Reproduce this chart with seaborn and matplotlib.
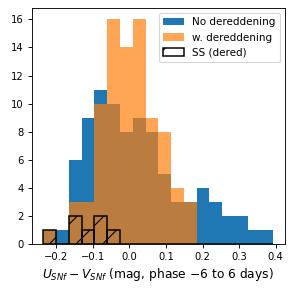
import numpy as np
import pandas as pd
import matplotlib
matplotlib.use("Agg")
import matplotlib.pyplot as plt
import seaborn as sns

# Histogram bin range (18 bins)
bin_lo, bin_hi, n_bins = -0.236, 0.394, 18
# Counts per bin
no_dered = [1, 1, 6, 9, 11, 10, 8, 9, 8, 5, 3, 3, 4, 3, 2, 2, 1, 1]
w_dered = [1, 0, 3, 3, 10, 16, 14, 16, 9, 8, 4, 3, 0, 0, 0, 0, 0, 0]
ss_dered = [1, 0, 2, 1, 2, 1, 0, 0, 0, 0, 0, 0, 0, 0, 0, 0, 0, 0]
labels = ["No dereddening", "w. dereddening", "SS (dered)"]

edges = np.linspace(bin_lo, bin_hi, n_bins + 1)
centers = 0.5 * (edges[:-1] + edges[1:])
df = pd.DataFrame({"x": centers, "no": no_dered, "w": w_dered, "ss": ss_dered})

DPI = 80
fig = plt.figure(figsize=(299 / DPI, 289 / DPI), dpi=DPI)
ax = fig.add_axes([0.106, 0.155, 0.847, 0.817])

common = dict(data=df, x="x", bins=n_bins, binrange=(bin_lo, bin_hi), ax=ax)
sns.histplot(weights="no", color="#1f77b4", alpha=1.0, linewidth=0,
             label=labels[0], **common)
sns.histplot(weights="w", color="#ff7f0e", alpha=0.7, linewidth=0,
             label=labels[1], **common)
sns.histplot(weights="ss", fill=False, color="black", edgecolor="black",
             linewidth=1.35, hatch="/", label=labels[2], **common)

ax.set_ylabel("")
ax.set_xlabel(r"$U_{SNf} - V_{SNf}$ (mag, phase $-6$ to 6 days)", fontsize=11)
ax.set_xticks([-0.2, -0.1, 0.0, 0.1, 0.2, 0.3, 0.4])
ax.set_yticks([0, 2, 4, 6, 8, 10, 12, 14, 16])
ax.tick_params(labelsize=9)
ax.legend(loc="upper right", fontsize=9.3)

fig.savefig("out.png", dpi=DPI)
